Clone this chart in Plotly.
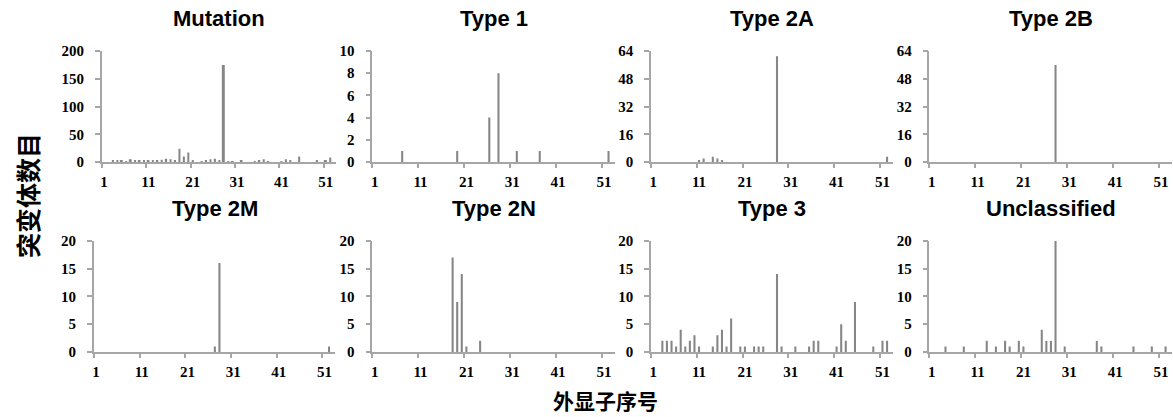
import plotly.graph_objects as go

# ---------------- data ----------------
exons = list(range(1, 53))
x_tick_labels = ["1", "11", "21", "31", "41", "51"]
x_tick_vals = [1, 11, 21, 31, 41, 51]

panel_titles = ["Mutation", "Type 1", "Type 2A", "Type 2B",
                "Type 2M", "Type 2N", "Type 3", "Unclassified"]

#            exon: 1..10 / 11..20 / 21..30 / 31..40 / 41..50 / 51..52
mutation = [0, 0, 2, 3, 2, 1, 5, 2, 2, 3,
            2, 2, 2, 4, 6, 5, 3, 24, 10, 17,
            3, 0, 1, 3, 5, 6, 3, 175, 1, 1,
            0, 2, 0, 0, 1, 2, 5, 1, 0, 0,
            1, 5, 2, 0, 10, 0, 0, 0, 2, 0,
            2, 8]
type_1 = [0, 0, 0, 0, 0, 0, 1, 0, 0, 0,
          0, 0, 0, 0, 0, 0, 0, 0, 1, 0,
          0, 0, 0, 0, 0, 4, 0, 8, 0, 0,
          0, 1, 0, 0, 0, 0, 1, 0, 0, 0,
          0, 0, 0, 0, 0, 0, 0, 0, 0, 0,
          0, 1]
type_2a = [0, 0, 0, 0, 0, 0, 0, 0, 0, 0,
           1, 2, 0, 3, 2, 1, 0, 0, 0, 0,
           0, 0, 0, 0, 0, 0, 0, 61, 0, 0,
           0, 0, 0, 0, 0, 0, 0, 0, 0, 0,
           0, 0, 0, 0, 0, 0, 0, 0, 0, 0,
           0, 3]
type_2b = [0, 0, 0, 0, 0, 0, 0, 0, 0, 0,
           0, 0, 0, 0, 0, 0, 0, 0, 0, 0,
           0, 0, 0, 0, 0, 0, 0, 56, 0, 0,
           0, 0, 0, 0, 0, 0, 0, 0, 0, 0,
           0, 0, 0, 0, 0, 0, 0, 0, 0, 0,
           0, 0]
type_2m = [0, 0, 0, 0, 0, 0, 0, 0, 0, 0,
           0, 0, 0, 0, 0, 0, 0, 0, 0, 0,
           0, 0, 0, 0, 0, 0, 1, 16, 0, 0,
           0, 0, 0, 0, 0, 0, 0, 0, 0, 0,
           0, 0, 0, 0, 0, 0, 0, 0, 0, 0,
           0, 1]
type_2n = [0, 0, 0, 0, 0, 0, 0, 0, 0, 0,
           0, 0, 0, 0, 0, 0, 0, 17, 9, 14,
           1, 0, 0, 2, 0, 0, 0, 0, 0, 0,
           0, 0, 0, 0, 0, 0, 0, 0, 0, 0,
           0, 0, 0, 0, 0, 0, 0, 0, 0, 0,
           0, 0]
type_3 = [0, 0, 2, 2, 2, 1, 4, 1, 2, 3,
          1, 0, 0, 1, 3, 4, 1, 6, 0, 1,
          1, 0, 1, 1, 1, 0, 0, 14, 1, 0,
          0, 1, 0, 0, 1, 2, 2, 0, 0, 0,
          1, 5, 2, 0, 9, 0, 0, 0, 1, 0,
          2, 2]
unclassified = [0, 0, 0, 1, 0, 0, 0, 1, 0, 0,
                0, 0, 2, 0, 1, 0, 2, 1, 0, 2,
                1, 0, 0, 0, 4, 2, 2, 20, 0, 1,
                0, 0, 0, 0, 0, 0, 2, 1, 0, 0,
                0, 0, 0, 0, 1, 0, 0, 0, 1, 0,
                0, 1]

y_ticks_mutation = [0, 50, 100, 150, 200]
y_ticks_type1 = [0, 2, 4, 6, 8, 10]
y_ticks_type2ab = [0, 16, 32, 48, 64]
y_ticks_row2 = [0, 5, 10, 15, 20]

series = [mutation, type_1, type_2a, type_2b, type_2m, type_2n, type_3, unclassified]
y_ticks = [y_ticks_mutation, y_ticks_type1, y_ticks_type2ab, y_ticks_type2ab,
           y_ticks_row2, y_ticks_row2, y_ticks_row2, y_ticks_row2]

y_title = "突变体数目"
x_title = "外显子序号"

# ---------------- layout (pixels) ----------------
W, H = 1173, 417
# the photographed figure occupies screen rows 8..409
TOP, SPAN = 8.0, 401.0


def py(target):
    """paper y for a target screen row"""
    return 1 - (target - TOP) / SPAN


x_px = [(100, 335), (371, 614), (650, 893), (929, 1172),
        (92, 334), (371, 614), (650, 893), (929, 1172)]
y_px = [(51, 162)] * 4 + [(240.7, 352)] * 4
title_y_px = [18] * 4 + [208] * 4

AX = "#a6a6a6"
BAR = "#868686"
tick_font = dict(family="Liberation Serif", size=15, color="black", weight="bold")
title_font = dict(family="Liberation Sans", size=22, color="black", weight="bold")
cjk_font_x = dict(family="Noto Sans CJK SC", size=21, color="black", weight="bold")
cjk_font_y = dict(family="Noto Sans CJK SC", size=25, color="black", weight="bold")

fig = go.Figure()
annotations = []
layout_axes = {}

for i, (name, vals, yt) in enumerate(zip(panel_titles, series, y_ticks)):
    n = i + 1
    xa = "x" if n == 1 else f"x{n}"
    ya = "y" if n == 1 else f"y{n}"
    fig.add_trace(go.Bar(x=exons, y=vals, xaxis=xa, yaxis=ya, width=0.45,
                         marker=dict(color=BAR, line=dict(width=0)),
                         showlegend=False, hoverinfo="x+y"))
    x0, x1 = x_px[i]
    yt0, yb0 = y_px[i]
    xdom = [x0 / W, x1 / W]
    ydom = [py(yb0), py(yt0)]
    key = "" if n == 1 else str(n)
    layout_axes["xaxis" + key] = dict(
        domain=xdom, anchor=ya, range=[0.5, 53.4],
        tickmode="array", tickvals=x_tick_vals, ticktext=x_tick_labels,
        ticks="outside", ticklen=5, tickcolor="rgba(0,0,0,0)",
        minor=dict(tickmode="array", tickvals=[v - 0.5 for v in x_tick_vals],
                   ticks="outside", ticklen=4, tickcolor=AX, tickwidth=1.5,
                   showgrid=False),
        showline=True, linecolor=AX, linewidth=1.5,
        showgrid=False, zeroline=False, tickfont=tick_font, fixedrange=True)
    layout_axes["yaxis" + key] = dict(
        domain=ydom, anchor=xa, range=[0, yt[-1]],
        tickmode="array", tickvals=yt, ticktext=[str(v) for v in yt],
        ticks="outside", ticklen=5, tickcolor=AX, tickwidth=1.5,
        ticklabelstandoff=8,
        showline=True, linecolor=AX, linewidth=1.5,
        showgrid=False, zeroline=False, tickfont=tick_font, fixedrange=True)
    annotations.append(dict(text=name, x=(xdom[0] + xdom[1]) / 2,
                            y=py(title_y_px[i]), xref="paper", yref="paper",
                            xanchor="center", yanchor="middle", showarrow=False,
                            font=title_font))

annotations.append(dict(text=y_title, x=25 / W, y=py(195), xref="paper", yref="paper",
                        xanchor="center", yanchor="middle", textangle=-90,
                        showarrow=False, font=cjk_font_y))
annotations.append(dict(text=x_title, x=605 / W, y=py(400), xref="paper", yref="paper",
                        xanchor="center", yanchor="middle", showarrow=False, font=cjk_font_x))

fig.update_layout(width=W, height=H, margin=dict(l=0, r=0, t=0, b=0),
                  paper_bgcolor="white", plot_bgcolor="white",
                  bargap=0.5, annotations=annotations, **layout_axes)

fig.write_html("out.html", config={"displayModeBar": False},
               post_script="document.body.style.margin='0';document.body.style.overflow='hidden';")
